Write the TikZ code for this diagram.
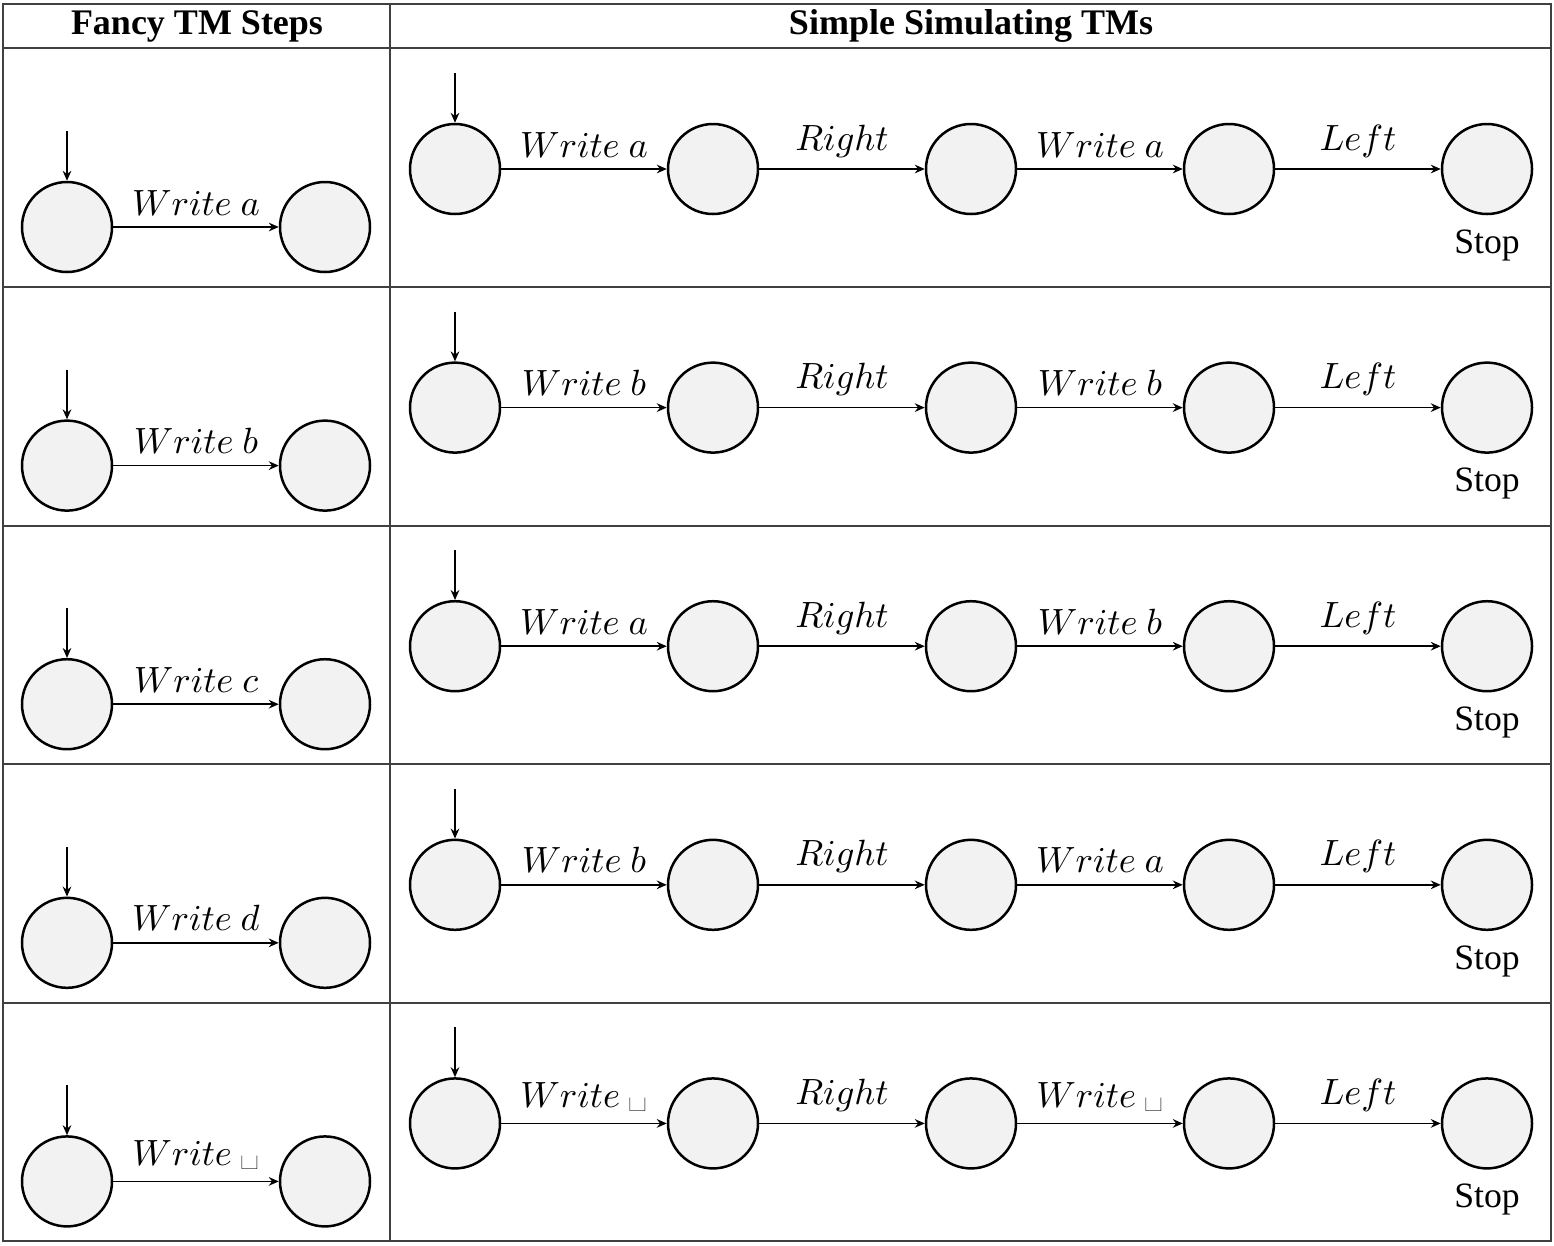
\documentclass[tikz,border=0pt]{standalone}
\usepackage{fontspec}
\setmainfont{Liberation Serif}
\newfontfamily\lmfont{Latin Modern Roman}
\newcommand\blanksym{\text{\lmfont\fontsize{11.5}{13}\selectfont\char"2423}}
\usepackage{amsmath}
\usetikzlibrary{arrows.meta}
\begin{document}
\begin{tikzpicture}[x=0.3pt,y=-0.3pt,
  tableline/.style={draw=black!75, line width=0.35pt},
  state/.style={circle, draw, line width=0.75pt, fill=black!5, minimum size=27pt, inner sep=0pt},
  edge/.style={-{Stealth[length=3pt, width=2.6pt, inset=1pt]}, line width=0.45pt},
  lab/.style={above, font=\fontsize{10.65}{13}\selectfont},
  head/.style={font=\fontsize{10.8}{13}\selectfont\bfseries},
  stoplab/.style={font=\fontsize{10.7}{13}\selectfont, label distance=0.8pt}]
\useasboundingbox (0,0) rectangle (1554,1245);
% table
\draw[tableline] (3,4) rectangle (1551,1241);
\foreach \yy in {48,287,526,764,1003}
  \draw[tableline] (3,\yy) -- (1551,\yy);
\draw[tableline] (390,4) -- (390,1241);
\node[head] (h1) at (197,26) {Fancy TM Steps};
\node[head] (h2) at (971,26) {Simple Simulating TMs};
\foreach \i/\l/\a/\b in {0/a/a/a, 1/b/b/b, 2/c/a/b, 3/d/b/a, 4/\blanksym/\blanksym/\blanksym} {
  \pgfmathsetmacro{\yl}{227+238.6*\i}
  \pgfmathsetmacro{\yr}{169+238.6*\i}
  % left column
  \node[state] (L\i a) at (67,\yl) {};
  \node[state] (L\i b) at (325,\yl) {};
  \coordinate (L\i s) at (67,\yl-96);
  \draw[edge] (L\i s) -- (L\i a);
  \draw[edge] (L\i a) -- node[lab] {$Write\ \l$} (L\i b);
  % right column
  \node[state] (R\i 1) at (455,\yr) {};
  \node[state] (R\i 2) at (713,\yr) {};
  \node[state] (R\i 3) at (971,\yr) {};
  \node[state] (R\i 4) at (1229,\yr) {};
  \node[state, label={[stoplab]below:Stop}] (R\i 5) at (1487,\yr) {};
  \coordinate (R\i s) at (455,\yr-96);
  \draw[edge] (R\i s) -- (R\i 1);
  \draw[edge] (R\i 1) -- node[lab] {$Write\ \a$} (R\i 2);
  \draw[edge] (R\i 2) -- node[lab] {$Right$} (R\i 3);
  \draw[edge] (R\i 3) -- node[lab] {$Write\ \b$} (R\i 4);
  \draw[edge] (R\i 4) -- node[lab] {$Left$} (R\i 5);
}
\end{tikzpicture}
\end{document}
